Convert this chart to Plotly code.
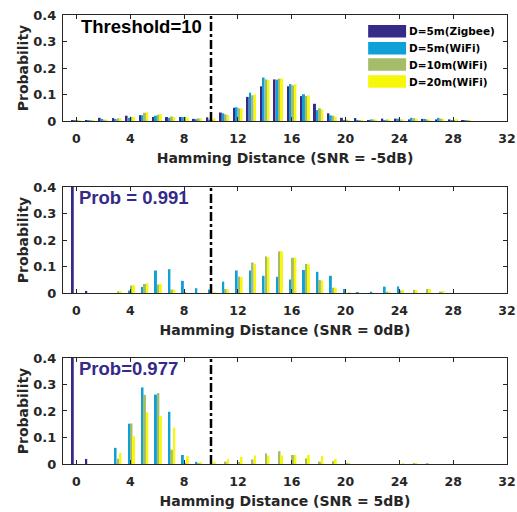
import plotly.graph_objects as go
from plotly.subplots import make_subplots

# Hamming distance bins
hamming = list(range(33))

series_names = ["D=5m(Zigbee)", "D=5m(WiFi)", "D=10m(WiFi)", "D=20m(WiFi)"]
series_colors = ["#352A87", "#0FA0D8", "#A5BD68", "#F7F70C"]

# SNR = -5 dB
zigbee_5m_snr_m5 = [0.002, 0.004, 0.012, 0.011, 0.020, 0.022, 0.015, 0.015, 0.015, 0.008, 0.014,
                    0.032, 0.050, 0.091, 0.131, 0.157, 0.131, 0.094, 0.065, 0.029, 0.012, 0.011,
                    0.003, 0.009, 0.009, 0.006, 0.008, 0.006, 0.006, 0.003, 0, 0, 0]
wifi_5m_snr_m5 = [0.001, 0.001, 0.008, 0.008, 0.012, 0.022, 0.020, 0.012, 0.015, 0.007, 0.005,
                  0.029, 0.052, 0.107, 0.164, 0.156, 0.139, 0.101, 0.041, 0.021, 0.004, 0.004,
                  0.006, 0.004, 0.009, 0.012, 0.008, 0.012, 0.003, 0.001, 0, 0, 0]
wifi_10m_snr_m5 = [0.001, 0.001, 0.005, 0.010, 0.016, 0.031, 0.024, 0.017, 0.016, 0.010, 0.005,
                   0.025, 0.048, 0.097, 0.157, 0.160, 0.135, 0.094, 0.048, 0.020, 0.005, 0.003,
                   0.006, 0.006, 0.006, 0.011, 0.006, 0.009, 0.004, 0.001, 0, 0, 0]
wifi_20m_snr_m5 = [0.001, 0.001, 0.005, 0.010, 0.015, 0.033, 0.026, 0.015, 0.013, 0.010, 0.010,
                   0.023, 0.048, 0.101, 0.155, 0.160, 0.139, 0.097, 0.044, 0.016, 0.004, 0.003,
                   0.005, 0.005, 0.006, 0.009, 0.005, 0.008, 0.007, 0.001, 0, 0, 0]

# SNR = 0 dB
zigbee_5m_snr_0 = [0.991, 0.008] + [0] * 31
wifi_5m_snr_0 = [0, 0, 0, 0, 0.009, 0.023, 0.085, 0.090, 0.046, 0.018, 0.013,
                 0.043, 0.085, 0.085, 0.065, 0.061, 0.051, 0.087, 0.080, 0.065, 0.015, 0.003,
                 0.005, 0.024, 0.025, 0, 0, 0, 0, 0, 0, 0, 0]
wifi_10m_snr_0 = [0, 0, 0, 0.006, 0.028, 0.034, 0.032, 0.013, 0.001, 0, 0,
                  0.015, 0.062, 0.115, 0.138, 0.157, 0.133, 0.110, 0.049, 0.020, 0, 0,
                  0, 0.005, 0.010, 0.012, 0.015, 0.005, 0, 0, 0, 0, 0]
wifi_20m_snr_0 = [0, 0, 0, 0.008, 0.029, 0.037, 0.035, 0.013, 0, 0, 0.004,
                  0.014, 0.061, 0.110, 0.135, 0.157, 0.134, 0.108, 0.047, 0.020, 0.002, 0,
                  0, 0.005, 0.012, 0.011, 0.015, 0.008, 0, 0, 0, 0, 0]

# SNR = 5 dB
zigbee_5m_snr_5 = [0.977, 0.019] + [0] * 31
wifi_5m_snr_5 = [0, 0, 0, 0.061, 0.152, 0.289, 0.262, 0.197, 0.034, 0.008] + [0] * 23
wifi_10m_snr_5 = [0, 0, 0, 0.020, 0.153, 0.261, 0.268, 0.054, 0.004, 0.002, 0,
                  0.009, 0.008, 0.017, 0.040, 0.048, 0.034, 0.021, 0.009, 0.011, 0.002, 0,
                  0, 0, 0, 0.002, 0.002, 0, 0, 0, 0, 0, 0]
wifi_20m_snr_5 = [0, 0, 0, 0.042, 0.105, 0.195, 0.181, 0.137, 0.030, 0.008, 0.009,
                  0.019, 0.027, 0.032, 0.032, 0.032, 0.034, 0.034, 0.030, 0.019, 0.004, 0,
                  0, 0, 0.002, 0.003, 0, 0, 0, 0, 0, 0, 0]

panels = [
    ("Hamming Distance (SNR = -5dB)",
     [zigbee_5m_snr_m5, wifi_5m_snr_m5, wifi_10m_snr_m5, wifi_20m_snr_m5]),
    ("Hamming Distance (SNR = 0dB)",
     [zigbee_5m_snr_0, wifi_5m_snr_0, wifi_10m_snr_0, wifi_20m_snr_0]),
    ("Hamming Distance (SNR = 5dB)",
     [zigbee_5m_snr_5, wifi_5m_snr_5, wifi_10m_snr_5, wifi_20m_snr_5]),
]

THRESHOLD = 10
zigbee_match_prob = [None, 0.991, 0.977]

x_ticks = list(range(0, 33, 4))
y_ticks = [0, 0.1, 0.2, 0.3, 0.4]
y_ticktext = ["0", "0.1", "0.2", "0.3", "0.4"]

FONT = "DejaVu Sans, sans-serif"
BIG_FONT = "Liberation Sans, Arial, sans-serif"
INK = "#262626"

fig = make_subplots(rows=3, cols=1, vertical_spacing=0.1)

for row, (xtitle, values) in enumerate(panels, start=1):
    for name, color, ys in zip(series_names, series_colors, values):
        fig.add_trace(go.Bar(x=hamming, y=ys, name=name, marker_color=color,
                             marker_line_width=0, showlegend=False),
                      row=row, col=1)
    fig.update_xaxes(range=[-1, 32], tickvals=x_ticks, ticks="inside", ticklen=4,
                     showline=True, linecolor=INK, linewidth=1.2, mirror="ticks",
                     tickcolor=INK, showgrid=False, zeroline=False, automargin=False,
                     ticklabelstandoff=6,
                     tickfont=dict(family=FONT, size=12.5, color=INK, weight="bold"),
                     title=dict(text=xtitle, standoff=8,
                                font=dict(family=FONT, size=14, color=INK, weight="bold")),
                     row=row, col=1)
    fig.update_yaxes(range=[0, 0.4], tickvals=y_ticks, ticktext=y_ticktext,
                     ticks="inside", ticklen=4, showline=True, linecolor=INK, linewidth=1.2,
                     mirror="ticks", tickcolor=INK, showgrid=False, zeroline=False,
                     automargin=False, ticklabelstandoff=3,
                     tickfont=dict(family=FONT, size=13, color=INK, weight="bold"),
                     title=dict(text="Probability", standoff=1,
                                font=dict(family=FONT, size=14, color=INK, weight="bold")),
                     row=row, col=1)

# domains of the three panels
domains = [[0.7639, 1.0], [0.3808, 0.6169], [0.0, 0.2361]]
for i, d in enumerate(domains):
    key = "yaxis" if i == 0 else f"yaxis{i + 1}"
    fig.layout[key].domain = d

# Threshold line in each panel
for i in range(3):
    xr = "x" if i == 0 else f"x{i + 1}"
    yr = "y domain" if i == 0 else f"y{i + 1} domain"
    fig.add_shape(type="line", xref=xr, yref=yr, x0=THRESHOLD, x1=THRESHOLD, y0=0, y1=1,
                  line=dict(color="black", width=2.5, dash="dashdot"))

fig.add_annotation(x=0.2, y=0.356, xref="x", yref="y", xanchor="left", yanchor="middle",
                   text=f"Threshold={THRESHOLD}", showarrow=False,
                   font=dict(family=BIG_FONT, size=18.5, color="black", weight="bold"))
for i in (1, 2):
    fig.add_annotation(x=0.02, y=0.36, xref=f"x{i + 1}", yref=f"y{i + 1}",
                       xanchor="left", yanchor="middle",
                       text=("Prob = %.3f" if i == 1 else "Prob=%.3f") % zigbee_match_prob[i],
                       showarrow=False,
                       font=dict(family=BIG_FONT, size=18.5, color=series_colors[0],
                                 weight="bold"))

# Legend drawn in the top panel
legend_rows_y = [0.3385, 0.2743, 0.2132, 0.149]
patch_h = 0.0235
for name, color, yc in zip(series_names, series_colors, legend_rows_y):
    fig.add_shape(type="rect", xref="x", yref="y", x0=21.68, x1=24.5,
                  y0=yc - patch_h, y1=yc + patch_h, fillcolor=color, line_width=0)
    fig.add_annotation(x=24.6, y=yc, xref="x", yref="y", xanchor="left", yanchor="middle",
                       text=name, showarrow=False,
                       font=dict(family=FONT, size=10.5, color="black", weight="bold"))

fig.update_layout(
    width=517, height=512,
    margin=dict(l=63, r=10, t=15, b=48),
    barmode="group", bargap=0.273, bargroupgap=0.2,
    paper_bgcolor="white", plot_bgcolor="white",
    font=dict(family=FONT, color=INK),
)

fig.write_html("out.html")
